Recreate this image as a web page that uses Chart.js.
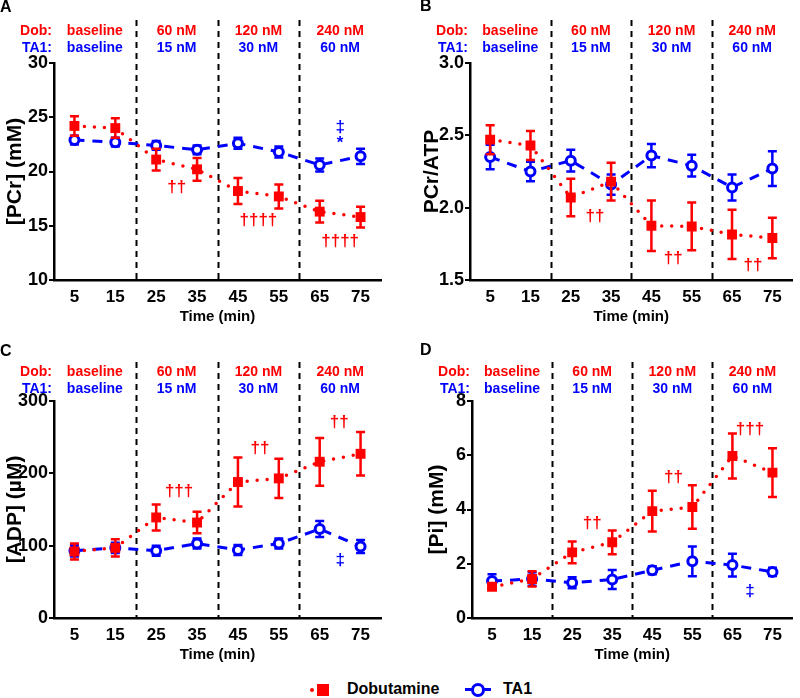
<!DOCTYPE html>
<html>
<head>
<meta charset="utf-8">
<script src="https://cdn.jsdelivr.net/npm/chart.js@4/dist/chart.umd.min.js"></script>
<style>
  body { margin: 0; background: #fff; }
  #wrap { position: relative; width: 800px; height: 698px; font-family: Arial, "Liberation Sans", sans-serif; }
  canvas { position: absolute; }
  .lg { position: absolute; }
</style>
</head>
<body>
<div id="wrap">
  <canvas id="cA" width="400" height="330" style="left:0;top:0"></canvas>
  <canvas id="cB" width="400" height="330" style="left:400px;top:0"></canvas>
  <canvas id="cC" width="400" height="330" style="left:0;top:338px"></canvas>
  <canvas id="cD" width="400" height="330" style="left:400px;top:338px"></canvas>

  <!-- legend -->
  <div class="lg" style="left:310px;top:688px;width:4px;height:4px;background:#f00;border-radius:2px"></div>
  <div class="lg" style="left:317px;top:684px;width:12px;height:12px;background:#f00"></div>
  <div class="lg" style="left:347px;top:680px;font:bold 16px Arial, 'Liberation Sans', sans-serif">Dobutamine</div>
  <div class="lg" style="left:465px;top:688px;width:7px;height:3px;background:#00f"></div>
  <div class="lg" style="left:471px;top:683px;width:8px;height:8px;border:3px solid #00f;border-radius:50%;background:#fff"></div>
  <div class="lg" style="left:484px;top:688px;width:7px;height:3px;background:#00f"></div>
  <div class="lg" style="left:503px;top:680px;font:bold 16px Arial, 'Liberation Sans', sans-serif">TA1</div>
</div>
<script>
const RED = '#f00';
const BLUE = '#00f';

const times = [5, 15, 25, 35, 45, 55, 65, 75];
const phases = [20, 40, 60];
const phaseMid = [10, 30, 50, 70];
const dobDoses = ['baseline', '60 nM', '120 nM', '240 nM'];
const ta1Doses = ['baseline', '15 nM', '30 nM', '60 nM'];

// A - PCr (mM)
const dobPCr    = [24.2, 24.0, 21.1, 20.2, 18.2, 17.7, 16.3, 15.8];
const dobPCrErr = [0.9, 0.9, 1.0, 1.05, 1.2, 1.1, 1.0, 0.95];
const ta1PCr    = [22.9, 22.7, 22.4, 22.0, 22.6, 21.8, 20.6, 21.4];
const ta1PCrErr = [0.4, 0.4, 0.4, 0.4, 0.5, 0.5, 0.6, 0.7];

// B - PCr/ATP
const dobRatio    = [2.47, 2.43, 2.07, 2.18, 1.875, 1.87, 1.815, 1.79];
const dobRatioErr = [0.1, 0.1, 0.13, 0.13, 0.175, 0.165, 0.17, 0.14];
const ta1Ratio    = [2.35, 2.25, 2.325, 2.16, 2.36, 2.29, 2.14, 2.27];
const ta1RatioErr = [0.085, 0.067, 0.075, 0.07, 0.08, 0.075, 0.09, 0.12];

// C - ADP (uM)
const dobADP    = [92, 97, 139, 132, 188, 193, 216, 227];
const dobADPErr = [11, 12, 18, 15, 34, 27, 33, 30];
const ta1ADP    = [93, 97, 93, 103, 94, 103, 123, 99];
const ta1ADPErr = [8, 7, 7, 7, 7, 7, 11, 9];

// D - Pi (mM)
const dobPi    = [1.15, 1.44, 2.42, 2.79, 3.94, 4.09, 5.97, 5.36];
const dobPiErr = [0.1, 0.28, 0.4, 0.44, 0.75, 0.8, 0.83, 0.9];
const ta1Pi    = [1.36, 1.44, 1.3, 1.42, 1.76, 2.09, 1.95, 1.7];
const ta1PiErr = [0.25, 0.25, 0.2, 0.35, 0.15, 0.55, 0.42, 0.15];

// significance marks [x, y, text, colour]
const notesA = [[30, 18.5, '††', RED], [50, 15.5, '††††', RED], [70, 13.6, '††††', RED], [70, 24.1, '‡', BLUE], [70, 22.6, '*', BLUE]];
const notesB = [[31, 1.94, '††', RED], [50.4, 1.65, '††', RED], [70.2, 1.6, '††', RED]];
const notesC = [[30.6, 175, '†††', RED], [50.4, 235, '††', RED], [69.8, 271, '††', RED], [70, 80, '‡', BLUE]];
const notesD = [[30, 3.5, '††', RED], [50.3, 5.17, '††', RED], [69.4, 6.96, '†††', RED], [69.4, 1.0, '‡', BLUE]];

Chart.defaults.font.family = "Arial, 'Liberation Sans', sans-serif";
Chart.defaults.color = '#000';

const panels = {};

const panelPlugin = {
  id: 'panel',
  beforeDatasetsDraw(chart) {
    const p = panels[chart.canvas.id];
    const ctx = chart.ctx, xs = chart.scales.x, a = chart.chartArea;
    ctx.save();
    ctx.strokeStyle = '#000';
    ctx.lineWidth = 2;
    ctx.setLineDash([6, 5]);
    phases.forEach(v => {
      const px = Math.round(xs.getPixelForValue(v)) + 0.5;
      ctx.beginPath();
      ctx.moveTo(px, a.top + p.lineTop);
      ctx.lineTo(px, a.bottom);
      ctx.stroke();
    });
    ctx.restore();
  },
  beforeDatasetDraw(chart, args) {
    const p = panels[chart.canvas.id];
    const ctx = chart.ctx, xs = chart.scales.x, ys = chart.scales.y;
    const ds = chart.data.datasets[args.index];
    const err = p.errs[args.index];
    ctx.save();
    ctx.strokeStyle = ds.borderColor;
    ctx.lineWidth = 2.5;
    ctx.setLineDash([]);
    ds.data.forEach((d, k) => {
      const px = xs.getPixelForValue(d.x);
      const t = ys.getPixelForValue(d.y + err[k]);
      const b = ys.getPixelForValue(d.y - err[k]);
      ctx.beginPath();
      ctx.moveTo(px, t); ctx.lineTo(px, b);
      ctx.moveTo(px - 4.5, t); ctx.lineTo(px + 4.5, t);
      ctx.moveTo(px - 4.5, b); ctx.lineTo(px + 4.5, b);
      ctx.stroke();
    });
    ctx.restore();
  },
  afterDraw(chart) {
    const p = panels[chart.canvas.id];
    const ctx = chart.ctx, xs = chart.scales.x, ys = chart.scales.y, a = chart.chartArea;
    ctx.save();
    ctx.textBaseline = 'middle';
    ctx.fillStyle = '#000';
    ctx.font = "bold 16px Arial, 'Liberation Sans', sans-serif";
    ctx.textAlign = 'left';
    ctx.fillText(p.letter, p.letterX, p.letterY);

    ctx.font = "bold 14px Arial, 'Liberation Sans', sans-serif";
    ctx.textAlign = 'right';
    ctx.fillStyle = RED;
    ctx.fillText('Dob:', a.left - 2, a.top + p.dobY);
    ctx.fillStyle = BLUE;
    ctx.fillText('TA1:', a.left - 2, a.top + p.ta1Y);
    ctx.textAlign = 'center';
    phaseMid.forEach((v, i) => {
      const px = xs.getPixelForValue(v);
      ctx.fillStyle = RED;
      ctx.fillText(dobDoses[i], px, a.top + p.dobY);
      ctx.fillStyle = BLUE;
      ctx.fillText(ta1Doses[i], px, a.top + p.ta1Y);
    });

    ctx.font = "bold 17px Arial, 'Liberation Sans', sans-serif";
    p.notes.forEach(n => {
      ctx.fillStyle = n[3];
      ctx.fillText(n[2], xs.getPixelForValue(n[0]), ys.getPixelForValue(n[1]));
    });
    ctx.restore();
  }
};

function makePanel(id, opt) {
  panels[id] = opt;
  new Chart(document.getElementById(id), {
    type: 'line',
    data: {
      datasets: [
        {
          label: 'Dobutamine',
          data: times.map((t, i) => ({ x: t, y: opt.dob[i] })),
          borderColor: RED,
          backgroundColor: RED,
          borderWidth: 3.5,
          borderDash: [0, 10],
          borderCapStyle: 'round',
          pointStyle: 'rect',
          pointRadius: 7,
          pointBorderWidth: 0,
          pointBackgroundColor: RED,
          order: 0
        },
        {
          label: 'TA1',
          data: times.map((t, i) => ({ x: t, y: opt.ta1[i] })),
          borderColor: BLUE,
          backgroundColor: '#fff',
          borderWidth: 3,
          borderDash: [10, 8],
          pointStyle: 'circle',
          pointRadius: 4.5,
          pointBorderWidth: 3,
          pointBackgroundColor: '#fff',
          pointBorderColor: BLUE,
          order: 1
        }
      ]
    },
    options: {
      responsive: false,
      animation: false,
      devicePixelRatio: 1,
      layout: { padding: { top: opt.padTop, right: opt.padRight, left: 0, bottom: 0 } },
      plugins: { legend: { display: false }, tooltip: { enabled: false } },
      scales: {
        x: {
          type: 'linear',
          min: 0, max: 80,
          afterBuildTicks: s => { s.ticks = times.map(v => ({ value: v })); },
          afterFit: s => { s.height = 50; },
          grid: { display: false, drawTicks: false },
          border: { display: true, color: '#000', width: 2.5 },
          ticks: { autoSkip: false, maxRotation: 0, padding: 7, font: { size: 17, weight: 'bold' }, color: '#000' },
          title: { display: true, text: 'Time (min)', font: { size: 15, weight: 'bold' }, color: '#000', padding: { top: 0, bottom: 4 } }
        },
        y: {
          min: opt.yMin, max: opt.yMax,
          ticks: {
            stepSize: opt.yStep, padding: 1, color: '#000',
            font: { size: 18, weight: 'bold' },
            callback: v => opt.yDec ? v.toFixed(opt.yDec) : v
          },
          afterFit: s => { s.width = opt.yWidth; },
          grid: { display: true, drawOnChartArea: false, drawTicks: true, tickLength: 5, color: '#000', lineWidth: 2 },
          border: { display: true, color: '#000', width: 2.5 },
          title: { display: true, text: opt.yTitle, font: { size: 21, weight: 'bold' }, color: '#000', padding: { top: opt.yTitlePad, bottom: 0 } }
        }
      }
    },
    plugins: [panelPlugin]
  });
}

makePanel('cA', {
  dob: dobPCr, ta1: ta1PCr, errs: [dobPCrErr, ta1PCrErr], notes: notesA,
  yMin: 10, yMax: 30, yStep: 5, yDec: 0, yTitle: '[PCr] (mM)',
  yWidth: 54, yTitlePad: 3, padTop: 63, padRight: 19,
  letter: 'A', letterX: 0, letterY: 8, dobY: -32, ta1Y: -15, lineTop: -43
});
makePanel('cB', {
  dob: dobRatio, ta1: ta1Ratio, errs: [dobRatioErr, ta1RatioErr], notes: notesB,
  yMin: 1.5, yMax: 3.0, yStep: 0.5, yDec: 1, yTitle: 'PCr/ATP',
  yWidth: 70, yTitlePad: 20, padTop: 63, padRight: 2,
  letter: 'B', letterX: 20, letterY: 7, dobY: -32, ta1Y: -15, lineTop: -43
});
makePanel('cC', {
  dob: dobADP, ta1: ta1ADP, errs: [dobADPErr, ta1ADPErr], notes: notesC,
  yMin: 0, yMax: 300, yStep: 100, yDec: 0, yTitle: '[ADP] (\u00B5M)',
  yWidth: 54, yTitlePad: 3, padTop: 63, padRight: 19,
  letter: 'C', letterX: 0, letterY: 14, dobY: -29, ta1Y: -12, lineTop: -39
});
makePanel('cD', {
  dob: dobPi, ta1: ta1Pi, errs: [dobPiErr, ta1PiErr], notes: notesD,
  yMin: 0, yMax: 8, yStep: 2, yDec: 0, yTitle: '[Pi] (mM)',
  yWidth: 72, yTitlePad: 25, padTop: 63, padRight: 2,
  letter: 'D', letterX: 20, letterY: 13, dobY: -29, ta1Y: -12, lineTop: -39
});
</script>
</body>
</html>
